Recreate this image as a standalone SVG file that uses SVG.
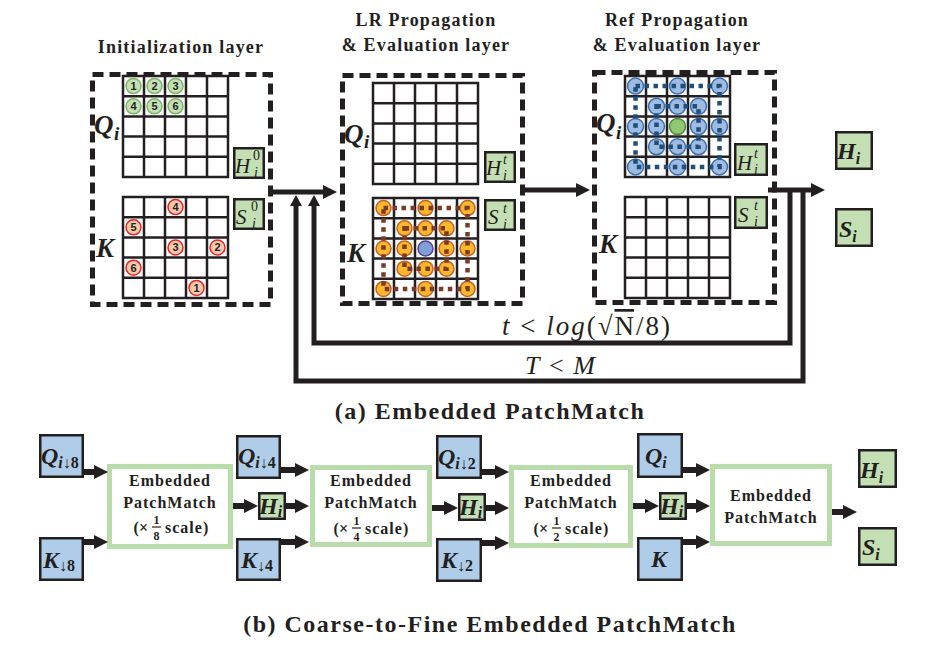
<svg xmlns="http://www.w3.org/2000/svg" xmlns:xlink="http://www.w3.org/1999/xlink" width="926" height="650" viewBox="0 0 926 650">
<style>
text{font-family:"Liberation Serif","DejaVu Serif",serif;fill:#231f20}
.title{font-size:18px;font-weight:bold;letter-spacing:1.2px;text-anchor:middle}
.cap{font-size:24px;font-weight:bold;letter-spacing:1.5px;text-anchor:middle}
.dash{fill:none;stroke:#231f20;stroke-width:5;stroke-dasharray:11 6}
.gbox{fill:#c3dfb3;stroke:#231f20;stroke-width:2.5}
.bbox{fill:#afcde9;stroke:#231f20;stroke-width:2.5}
.epm{fill:#fff;stroke:#b9dcab;stroke-width:5}
.mi{font-style:italic}
.big{font-size:27px;font-style:italic;font-weight:bold}
.lab{font-size:21px;font-style:italic}
.sup{font-size:14px;font-style:italic}
.bl{font-size:24px;font-style:italic;font-weight:bold}
.bls{font-size:16px;font-style:italic;font-weight:bold}
.up{font-style:normal}
.ep{font-size:16px;font-weight:bold;letter-spacing:1px;text-anchor:middle}
.fr{font-size:12px;font-weight:bold;text-anchor:middle}
.num{font-family:"Liberation Sans",Arial,sans-serif;font-size:11px;font-weight:bold;text-anchor:middle}
.cg{fill:#c5e0b4;stroke:#7fb36a;stroke-width:1.5}
.cr{fill:#f8cbad;stroke:#e8262a;stroke-width:1.5}
.co{fill:#fbb829;stroke:#c5622c;stroke-width:1.5}
.cb{fill:#9dbbe3;stroke:#3c6fae;stroke-width:1.5}
.dotb{fill:none;stroke:#7a3a2b;stroke-width:4.5;stroke-dasharray:4.5 4.5}
.dotu{fill:none;stroke:#1f4e79;stroke-width:4.5;stroke-dasharray:4.5 4.5}
.ln{fill:none;stroke:#231f20;stroke-width:5}
.lnb{fill:none;stroke:#231f20;stroke-width:6;marker-end:url(#ah)}
</style>
<defs>
<marker id="ah" markerUnits="userSpaceOnUse" markerWidth="14" markerHeight="14" refX="3" refY="7" orient="auto"><path d="M0,0 L14,7 L0,14 z" fill="#231f20"/></marker>
<marker id="ahs" markerUnits="userSpaceOnUse" markerWidth="11" markerHeight="12" refX="2" refY="6" orient="auto"><path d="M0,0 L11,6 L0,12 z" fill="#231f20"/></marker>
<g id="grid"><path d="M0,0V101M21,0V101M42,0V101M63,0V101M84,0V101M105,0V101M0,0H105M0,20.2H105M0,40.4H105M0,60.6H105M0,80.8H105M0,101H105" fill="none" stroke="#231f20" stroke-width="2.5" stroke-linecap="square"/></g>
</defs>

<!-- titles -->
<text class="title" x="181" y="53">Initialization layer</text>
<text class="title" x="426" y="26">LR Propagation</text>
<text class="title" x="426" y="51">&amp; Evaluation layer</text>
<text class="title" x="677" y="26">Ref Propagation</text>
<text class="title" x="677" y="51">&amp; Evaluation layer</text>

<!-- Initialization layer -->
<g id="init-layer">
<rect class="dash" x="92.5" y="74.5" width="178" height="230"/>
<use xlink:href="#grid" x="123" y="76"/>
<use xlink:href="#grid" x="123" y="197"/>
<g transform="translate(123,76)">
<circle class="cg" cx="10.5" cy="10.1" r="7.5"/><text class="num" x="10.5" y="14">1</text>
<circle class="cg" cx="31.5" cy="10.1" r="7.5"/><text class="num" x="31.5" y="14">2</text>
<circle class="cg" cx="52.5" cy="10.1" r="7.5"/><text class="num" x="52.5" y="14">3</text>
<circle class="cg" cx="10.5" cy="30.3" r="7.5"/><text class="num" x="10.5" y="34.2">4</text>
<circle class="cg" cx="31.5" cy="30.3" r="7.5"/><text class="num" x="31.5" y="34.2">5</text>
<circle class="cg" cx="52.5" cy="30.3" r="7.5"/><text class="num" x="52.5" y="34.2">6</text>
</g>
<g transform="translate(123,197)">
<circle class="cr" cx="52.5" cy="10.1" r="7.5"/><text class="num" x="52.5" y="14">4</text>
<circle class="cr" cx="10.5" cy="30.3" r="7.5"/><text class="num" x="10.5" y="34.2">5</text>
<circle class="cr" cx="52.5" cy="50.5" r="7.5"/><text class="num" x="52.5" y="54.4">3</text>
<circle class="cr" cx="94.5" cy="50.5" r="7.5"/><text class="num" x="94.5" y="54.4">2</text>
<circle class="cr" cx="10.5" cy="70.7" r="7.5"/><text class="num" x="10.5" y="74.6">6</text>
<circle class="cr" cx="73.5" cy="90.9" r="7.5"/><text class="num" x="73.5" y="94.8">1</text>
</g>
<text class="big" x="94" y="134">Q<tspan x="114" y="140" font-size="19">i</tspan></text>
<text class="big" x="96" y="257">K</text>
<rect class="gbox" x="234.25" y="148.25" width="29.5" height="29.5"/>
<text class="lab" x="235" y="173">H<tspan class="sup" x="253" y="160" style="font-style:normal">0</tspan><tspan class="sup" x="254" y="177">i</tspan></text>
<rect class="gbox" x="234.25" y="199.25" width="29.5" height="29.5"/>
<text class="lab" x="236" y="224">S<tspan class="sup" x="251" y="211" style="font-style:normal">0</tspan><tspan class="sup" x="252" y="228">i</tspan></text>
</g>

<!-- LR propagation layer -->
<g id="lr-layer">
<rect class="dash" x="342.5" y="75.5" width="180" height="228"/>
<use xlink:href="#grid" x="373" y="83"/>
<use xlink:href="#grid" x="373" y="198"/>
<g transform="translate(373,198)">
<circle class="co" cx="10.5" cy="10.1" r="7.5"/><circle class="co" cx="52.5" cy="10.1" r="7.5"/><circle class="co" cx="94.5" cy="10.1" r="7.5"/>
<circle class="co" cx="31.5" cy="30.3" r="7.5"/><circle class="co" cx="52.5" cy="30.3" r="7.5"/><circle class="co" cx="73.5" cy="30.3" r="7.5"/>
<circle class="co" cx="10.5" cy="50.5" r="7.5"/><circle class="co" cx="31.5" cy="50.5" r="7.5"/><circle cx="52.5" cy="50.5" r="7.5" fill="#7c9fd6" stroke="#5a3d9a" stroke-width="1.5"/><circle class="co" cx="73.5" cy="50.5" r="7.5"/><circle class="co" cx="94.5" cy="50.5" r="7.5"/>
<circle class="co" cx="31.5" cy="70.7" r="7.5"/><circle class="co" cx="52.5" cy="70.7" r="7.5"/><circle class="co" cx="73.5" cy="70.7" r="7.5"/>
<circle class="co" cx="10.5" cy="90.9" r="7.5"/><circle class="co" cx="52.5" cy="90.9" r="7.5"/><circle class="co" cx="94.5" cy="90.9" r="7.5"/>
<path class="dotb" d="M10.5,10.1H94.5V90.9H10.5Z"/>
<path class="dotb" d="M31.5,30.3H73.5V70.7H31.5Z"/>
</g>
<text class="big" x="344" y="143">Q<tspan x="364" y="148" font-size="19">i</tspan></text>
<text class="big" x="347" y="262">K</text>
<rect class="gbox" x="485.25" y="152.25" width="29.5" height="29.5"/>
<text class="lab" x="486" y="175">H<tspan class="sup" x="503" y="164">t</tspan><tspan class="sup" x="503" y="180">i</tspan></text>
<rect class="gbox" x="485.25" y="200.25" width="29.5" height="29.5"/>
<text class="lab" x="488" y="224">S<tspan class="sup" x="503" y="213">t</tspan><tspan class="sup" x="503" y="229">i</tspan></text>
</g>

<!-- Ref propagation layer -->
<g id="ref-layer">
<rect class="dash" x="594.5" y="72.5" width="180" height="230"/>
<use xlink:href="#grid" x="625" y="76"/>
<use xlink:href="#grid" x="625" y="197"/>
<g transform="translate(625,76)">
<circle class="cb" cx="10.5" cy="10.1" r="8"/><circle class="cb" cx="52.5" cy="10.1" r="8"/><circle class="cb" cx="94.5" cy="10.1" r="8"/>
<circle class="cb" cx="31.5" cy="30.3" r="8"/><circle class="cb" cx="52.5" cy="30.3" r="8"/><circle class="cb" cx="73.5" cy="30.3" r="8"/>
<circle class="cb" cx="10.5" cy="50.5" r="8"/><circle class="cb" cx="31.5" cy="50.5" r="8"/><circle cx="52.5" cy="50.5" r="8" fill="#8fc870" stroke="#4d8a3a" stroke-width="1.5"/><circle class="cb" cx="73.5" cy="50.5" r="8"/><circle class="cb" cx="94.5" cy="50.5" r="8"/>
<circle class="cb" cx="31.5" cy="70.7" r="8"/><circle class="cb" cx="52.5" cy="70.7" r="8"/><circle class="cb" cx="73.5" cy="70.7" r="8"/>
<circle class="cb" cx="10.5" cy="90.9" r="8"/><circle class="cb" cx="52.5" cy="90.9" r="8"/><circle class="cb" cx="94.5" cy="90.9" r="8"/>
<path class="dotu" d="M10.5,10.1H94.5V90.9H10.5Z"/>
<path class="dotu" d="M31.5,30.3H73.5V70.7H31.5Z"/>
</g>
<text class="big" x="596" y="132">Q<tspan x="616" y="139" font-size="19">i</tspan></text>
<text class="big" x="599" y="253">K</text>
<rect class="gbox" x="735.25" y="144.25" width="31.5" height="30.5"/>
<text class="lab" x="737" y="170">H<tspan class="sup" x="754" y="158">t</tspan><tspan class="sup" x="754" y="174">i</tspan></text>
<rect class="gbox" x="735.25" y="197.25" width="31.5" height="30.5"/>
<text class="lab" x="738" y="222">S<tspan class="sup" x="754" y="210">t</tspan><tspan class="sup" x="754" y="226">i</tspan></text>
</g>

<!-- outputs (a) -->
<g id="out-H">
<rect class="gbox" x="836.25" y="132.25" width="35.5" height="36.5"/>
<text class="bl" x="837" y="159" font-size="28">H<tspan class="bls" dy="5" font-size="19">i</tspan></text>
</g>
<g id="out-S">
<rect class="gbox" x="836.25" y="209.25" width="35.5" height="36.5"/>
<text class="bl" x="839" y="237" font-size="28">S<tspan class="bls" dy="5" font-size="19">i</tspan></text>
</g>

<!-- connectors (a) -->
<g id="connectors-a">
<path class="ln" d="M271,192H326" marker-end="url(#ah)"/>
<path class="ln" d="M523,190H579" marker-end="url(#ah)"/>
<path class="ln" d="M768,190H814" marker-end="url(#ah)"/>
<path class="ln" d="M790,188V343H314V204" marker-end="url(#ahs)"/>
<path class="ln" d="M803,188V381H296V204" marker-end="url(#ahs)"/>
<text x="502" y="335" font-size="27" textLength="168" lengthAdjust="spacing"><tspan class="mi">t</tspan> &lt; <tspan class="mi">log</tspan>(√<tspan text-decoration="overline">N</tspan>/8)</text>
<text x="525" y="374" font-size="26" textLength="70" lengthAdjust="spacing"><tspan class="mi">T</tspan> &lt; <tspan class="mi">M</tspan></text>
</g>

<text class="cap" x="490" y="419">(a) Embedded PatchMatch</text>

<!-- (b) nodes -->
<g id="q8"><rect class="bbox" x="40.25" y="435.25" width="42.5" height="41.5"/><text class="bl" x="41" y="464">Q<tspan class="bls" dy="4">i<tspan class="up">↓8</tspan></tspan></text></g>
<g id="k8"><rect class="bbox" x="40.25" y="538.25" width="42.5" height="41.5"/><text class="bl" x="43" y="568">K<tspan class="bls up" dy="3">↓8</tspan></text></g>
<g id="epm1"><rect class="epm" x="109.5" y="466.5" width="121" height="80"/>
<text class="ep" x="170" y="486">Embedded</text><text class="ep" x="170" y="508">PatchMatch</text>
<text x="148" y="533" font-size="16" font-weight="bold" text-anchor="end">(×</text>
<text class="fr" x="156.5" y="524">1</text><path d="M152,527H161" stroke="#231f20" stroke-width="1.2"/><text class="fr" x="156.5" y="540">8</text>
<text x="165" y="533" font-size="16" font-weight="bold" letter-spacing="1">scale)</text></g>
<g id="q4"><rect class="bbox" x="237.25" y="436.25" width="42.5" height="41.5"/><text class="bl" x="238" y="464">Q<tspan class="bls" dy="4">i<tspan class="up">↓4</tspan></tspan></text></g>
<g id="h1"><rect class="gbox" x="259.25" y="493.25" width="25.5" height="25.5"/><text class="bl" x="259" y="514" font-size="21">H<tspan class="bls" dy="3" font-size="14">i</tspan></text></g>
<g id="k4"><rect class="bbox" x="237.25" y="539.25" width="42.5" height="40.5"/><text class="bl" x="241" y="568">K<tspan class="bls up" dy="3">↓4</tspan></text></g>
<g id="epm2"><rect class="epm" x="312.5" y="467.5" width="117" height="77"/>
<text class="ep" x="371" y="486">Embedded</text><text class="ep" x="371" y="508">PatchMatch</text>
<text x="348" y="534" font-size="16" font-weight="bold" text-anchor="end">(×</text>
<text class="fr" x="356.5" y="525">1</text><path d="M352,528H361" stroke="#231f20" stroke-width="1.2"/><text class="fr" x="356.5" y="541">4</text>
<text x="365" y="534" font-size="16" font-weight="bold" letter-spacing="1">scale)</text></g>
<g id="q2"><rect class="bbox" x="437.25" y="436.25" width="43.5" height="41.5"/><text class="bl" x="438" y="465">Q<tspan class="bls" dy="4">i<tspan class="up">↓2</tspan></tspan></text></g>
<g id="h2"><rect class="gbox" x="459.25" y="494.25" width="25.5" height="25.5"/><text class="bl" x="459" y="515" font-size="21">H<tspan class="bls" dy="3" font-size="14">i</tspan></text></g>
<g id="k2"><rect class="bbox" x="437.25" y="539.25" width="43.5" height="41.5"/><text class="bl" x="441" y="568">K<tspan class="bls up" dy="3">↓2</tspan></text></g>
<g id="epm3"><rect class="epm" x="511.5" y="467.5" width="119" height="78"/>
<text class="ep" x="571" y="486">Embedded</text><text class="ep" x="571" y="508">PatchMatch</text>
<text x="548" y="534" font-size="16" font-weight="bold" text-anchor="end">(×</text>
<text class="fr" x="556.5" y="525">1</text><path d="M552,528H561" stroke="#231f20" stroke-width="1.2"/><text class="fr" x="556.5" y="541">2</text>
<text x="565" y="534" font-size="16" font-weight="bold" letter-spacing="1">scale)</text></g>
<g id="q1"><rect class="bbox" x="638.25" y="434.25" width="43.5" height="42.5"/><text class="bl" x="645" y="464">Q<tspan class="bls" dy="4">i</tspan></text></g>
<g id="h3"><rect class="gbox" x="660.25" y="493.25" width="25.5" height="25.5"/><text class="bl" x="660" y="514" font-size="21">H<tspan class="bls" dy="3" font-size="14">i</tspan></text></g>
<g id="k1"><rect class="bbox" x="638.25" y="538.25" width="43.5" height="41.5"/><text class="bl" x="651" y="567">K</text></g>
<g id="epm4"><rect class="epm" x="712.5" y="466.5" width="117" height="77"/>
<text class="ep" x="771" y="501">Embedded</text><text class="ep" x="771" y="523">PatchMatch</text></g>
<g id="outb-H"><rect class="gbox" x="859.25" y="450.25" width="36.5" height="36.5"/><text class="bl" x="860" y="478" font-size="28">H<tspan class="bls" dy="5" font-size="19">i</tspan></text></g>
<g id="outb-S"><rect class="gbox" x="859.25" y="528.25" width="36.5" height="36.5"/><text class="bl" x="862" y="555" font-size="28">S<tspan class="bls" dy="5" font-size="19">i</tspan></text></g>

<!-- connectors (b) -->
<g id="connectors-b">
<path class="lnb" d="M84,472H97"/>
<path class="lnb" d="M84,542H97"/>
<path class="lnb" d="M233,506H247"/>
<path class="lnb" d="M281,470H298"/>
<path class="lnb" d="M286,506H298"/>
<path class="lnb" d="M281,542H298"/>
<path class="lnb" d="M432,508H447"/>
<path class="lnb" d="M482,472H498"/>
<path class="lnb" d="M486,508H498"/>
<path class="lnb" d="M482,543H498"/>
<path class="lnb" d="M633,506H648"/>
<path class="lnb" d="M683,470H699"/>
<path class="lnb" d="M687,506H699"/>
<path class="lnb" d="M683,542H699"/>
<path class="lnb" d="M832,512H846"/>
</g>

<text class="cap" x="490" y="632">(b) Coarse-to-Fine Embedded PatchMatch</text>
</svg>
